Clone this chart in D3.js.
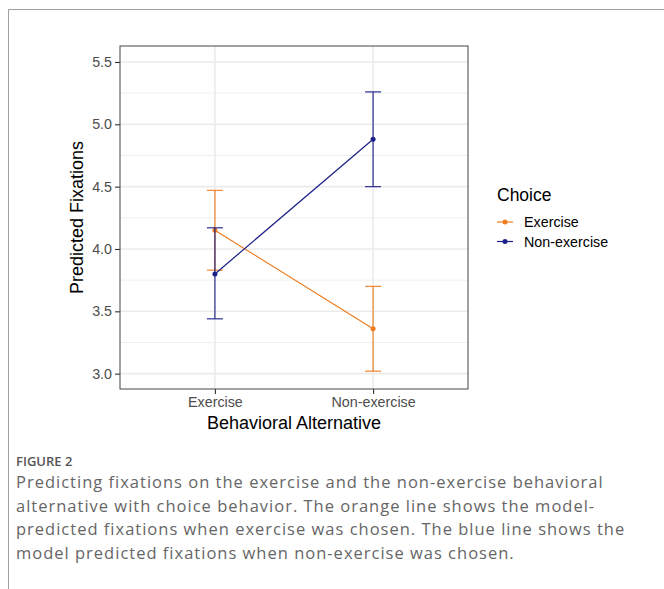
<!DOCTYPE html>
<html>
<head>
<meta charset="utf-8">
<script src="https://cdn.jsdelivr.net/npm/d3@7"></script>
<style>
  body { margin: 0; background: #fff; }
  svg { display: block; }
</style>
</head>
<body>
<svg></svg>
<script>
let width = 664, height = 589;
let svg = d3.select("svg")
    .attr("width", width)
    .attr("height", height)
    .attr("viewBox", "0 0 " + width + " " + height);

// Data
const alternatives = ["Exercise", "Non-exercise"];
const choices = ["Exercise", "Non-exercise"];
const choiceColors = ["#ED7D1F", "#1B1F87"];
const exerciseMean = [4.15, 3.36];
const exerciseLow = [3.83, 3.02];
const exerciseHigh = [4.47, 3.70];
const nonExerciseMean = [3.80, 4.88];
const nonExerciseLow = [3.44, 4.50];
const nonExerciseHigh = [4.17, 5.26];
const yTicks = [3.0, 3.5, 4.0, 4.5, 5.0, 5.5];
const yMinor = [3.25, 3.75, 4.25, 4.75, 5.25];
const captionLabel = "FIGURE 2";
const captionLines = [
  "Predicting fixations on the exercise and the non-exercise behavioral",
  "alternative with choice behavior. The orange line shows the model-",
  "predicted fixations when exercise was chosen. The blue line shows the",
  "model predicted fixations when non-exercise was chosen."
];

const series = [
  { name: choices[0], color: choiceColors[0], mean: exerciseMean, low: exerciseLow, high: exerciseHigh },
  { name: choices[1], color: choiceColors[1], mean: nonExerciseMean, low: nonExerciseLow, high: nonExerciseHigh }
];

// outer frame (top and left rule)
svg.append("line").attr("x1", 8.5).attr("x2", width).attr("y1", 9.5).attr("y2", 9.5)
  .attr("stroke", "#a0a0a0").attr("stroke-width", 1);
svg.append("line").attr("x1", 8.5).attr("x2", 8.5).attr("y1", 9.5).attr("y2", height)
  .attr("stroke", "#a0a0a0").attr("stroke-width", 1);

// panel
const panel = { left: 120, top: 46, right: 468, bottom: 389 };

const x = d3.scalePoint()
  .domain(alternatives)
  .range([panel.left, panel.right])
  .padding(0.6);

const y = d3.scaleLinear()
  .domain([2.877, 5.628])
  .range([panel.bottom, panel.top]);

const chartFont = "'Liberation Sans', Arial, sans-serif";

// grid
let grid = svg.append("g");
grid.selectAll(".minor").data(yMinor).enter().append("line")
  .attr("x1", panel.left).attr("x2", panel.right)
  .attr("y1", d => y(d)).attr("y2", d => y(d))
  .attr("stroke", "#ebebeb").attr("stroke-width", 0.8);
grid.selectAll(".major").data(yTicks).enter().append("line")
  .attr("x1", panel.left).attr("x2", panel.right)
  .attr("y1", d => y(d)).attr("y2", d => y(d))
  .attr("stroke", "#ebebeb").attr("stroke-width", 1.6);
grid.selectAll(".vmajor").data(alternatives).enter().append("line")
  .attr("x1", d => x(d)).attr("x2", d => x(d))
  .attr("y1", panel.top).attr("y2", panel.bottom)
  .attr("stroke", "#ebebeb").attr("stroke-width", 1.6);

// axes
let yAxis = svg.append("g")
  .attr("transform", "translate(" + panel.left + ",0)")
  .call(d3.axisLeft(y).tickValues(yTicks).tickFormat(d3.format(".1f")).tickSize(5).tickPadding(3));
let xAxis = svg.append("g")
  .attr("transform", "translate(0," + panel.bottom + ")")
  .call(d3.axisBottom(x).tickSize(5).tickPadding(3));
[yAxis, xAxis].forEach(a => {
  a.select(".domain").remove();
  a.selectAll(".tick line").attr("stroke", "#333").attr("stroke-width", 1.1);
  a.selectAll(".tick text")
    .style("font-family", chartFont)
    .style("font-size", "14.3px")
    .attr("fill", "#4d4d4d");
});

// series
series.forEach(s => {
  let g = svg.append("g");
  g.selectAll(".eb").data(alternatives).enter().append("line")
    .attr("x1", d => x(d)).attr("x2", d => x(d))
    .attr("y1", (d, i) => y(s.low[i])).attr("y2", (d, i) => y(s.high[i]))
    .attr("stroke", s.color).attr("stroke-width", 1.3).attr("opacity", 0.85);
  [s.low, s.high].forEach(arr => {
    g.selectAll(null).data(alternatives).enter().append("line")
      .attr("x1", d => x(d) - 8).attr("x2", d => x(d) + 8)
      .attr("y1", (d, i) => y(arr[i])).attr("y2", (d, i) => y(arr[i]))
      .attr("stroke", s.color).attr("stroke-width", 1.3).attr("opacity", 0.85);
  });
  let line = d3.line().x((d, i) => x(alternatives[i])).y(d => y(d));
  g.append("path").datum(s.mean)
    .attr("d", line)
    .attr("fill", "none")
    .attr("stroke", s.color)
    .attr("stroke-width", 1.2);
  g.selectAll("circle").data(s.mean).enter().append("circle")
    .attr("cx", (d, i) => x(alternatives[i]))
    .attr("cy", d => y(d))
    .attr("r", 2.5)
    .attr("fill", s.color);
});

// panel border
svg.append("rect")
  .attr("x", panel.left).attr("y", panel.top)
  .attr("width", panel.right - panel.left).attr("height", panel.bottom - panel.top)
  .attr("fill", "none").attr("stroke", "#444").attr("stroke-width", 1);

// axis titles
svg.append("text")
  .attr("x", (panel.left + panel.right) / 2)
  .attr("y", 429)
  .attr("text-anchor", "middle")
  .style("font-family", chartFont)
  .style("font-size", "18px")
  .text("Behavioral Alternative");
svg.append("text")
  .attr("transform", "translate(83," + (panel.top + panel.bottom) / 2 + ") rotate(-90)")
  .attr("text-anchor", "middle")
  .style("font-family", chartFont)
  .style("font-size", "18px")
  .text("Predicted Fixations");

// legend
svg.append("text")
  .attr("x", 497).attr("y", 201)
  .style("font-family", chartFont)
  .style("font-size", "17.5px")
  .text("Choice");
series.forEach((s, i) => {
  let ly = 222 + i * 19.5;
  svg.append("line")
    .attr("x1", 497).attr("x2", 513).attr("y1", ly).attr("y2", ly)
    .attr("stroke", s.color).attr("stroke-width", 1.2);
  svg.append("circle").attr("cx", 505).attr("cy", ly).attr("r", 2.5).attr("fill", s.color);
  svg.append("text")
    .attr("x", 524).attr("y", ly)
    .attr("dominant-baseline", "central")
    .style("font-family", chartFont)
    .style("font-size", "14.3px")
    .text(s.name);
});

// caption
const capFont = "'Open Sans', 'Noto Sans', sans-serif";
svg.append("text")
  .attr("x", 16).attr("y", 466)
  .style("font-family", capFont)
  .style("font-size", "13px")
  .style("font-weight", "600")
  .attr("fill", "#555")
  .text(captionLabel);
svg.selectAll(".cap").data(captionLines).enter().append("text")
  .attr("x", 16)
  .attr("y", (d, i) => 488 + i * 23.7)
  .style("font-family", capFont)
  .style("font-size", "16.5px")
  .style("letter-spacing", "1px")
  .attr("fill", "#666")
  .text(d => d);
</script>
</body>
</html>
